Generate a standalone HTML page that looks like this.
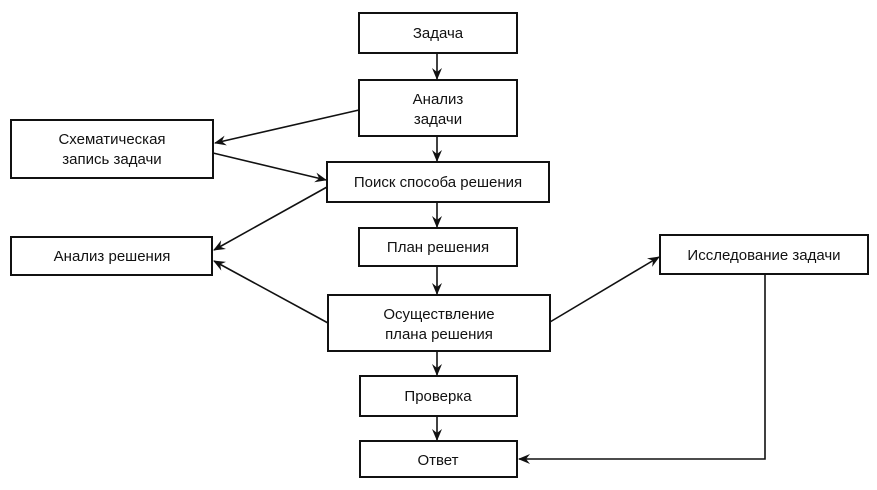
<!DOCTYPE html>
<html><head><meta charset="utf-8"><style>
body{margin:0;background:#fff;}
svg text{font-family:"Liberation Sans",sans-serif;font-size:15px;fill:#111;text-anchor:middle;}
</style></head><body>
<svg width="877" height="485" viewBox="0 0 877 485" xmlns="http://www.w3.org/2000/svg">
<defs><marker id="a" markerWidth="12" markerHeight="10" refX="11" refY="5" orient="auto" markerUnits="userSpaceOnUse"><path d="M0,0 L12,5 L0,10 L4,5 Z" fill="#111"/></marker></defs>
<g fill="#fff" stroke="#111" stroke-width="2">
<rect x="359" y="13" width="158" height="40"/>
<rect x="359" y="80" width="158" height="56"/>
<rect x="11" y="120" width="202" height="58"/>
<rect x="327" y="162" width="222" height="40"/>
<rect x="11" y="237" width="201" height="38"/>
<rect x="359" y="228" width="158" height="38"/>
<rect x="660" y="235" width="208" height="39"/>
<rect x="328" y="295" width="222" height="56"/>
<rect x="360" y="376" width="157" height="40"/>
<rect x="360" y="441" width="157" height="36"/>
</g>
<g stroke="#111" stroke-width="1.6" fill="none" marker-end="url(#a)">
<line x1="437" y1="53" x2="437" y2="79"/>
<line x1="437" y1="136" x2="437" y2="161"/>
<line x1="437" y1="202" x2="437" y2="227"/>
<line x1="437" y1="266" x2="437" y2="294"/>
<line x1="437" y1="351" x2="437" y2="375"/>
<line x1="437" y1="416" x2="437" y2="440"/>
<line x1="359" y1="110" x2="215" y2="143"/>
<line x1="213" y1="153" x2="326" y2="180"/>
<line x1="327" y1="187" x2="214" y2="250"/>
<line x1="328" y1="323" x2="214" y2="261"/>
<line x1="550" y1="322" x2="659" y2="257"/>
<polyline points="765,274 765,459 519,459"/>
</g>
<text x="438" y="38">Задача</text>
<text x="438" y="104">Анализ</text>
<text x="438" y="124">задачи</text>
<text x="112" y="144">Схематическая</text>
<text x="112" y="164">запись задачи</text>
<text x="438" y="187">Поиск способа решения</text>
<text x="112" y="261">Анализ решения</text>
<text x="438" y="252">План решения</text>
<text x="764" y="260">Исследование задачи</text>
<text x="439" y="319">Осуществление</text>
<text x="439" y="339">плана решения</text>
<text x="438" y="401">Проверка</text>
<text x="438" y="465">Ответ</text>
</svg>
</body></html>
